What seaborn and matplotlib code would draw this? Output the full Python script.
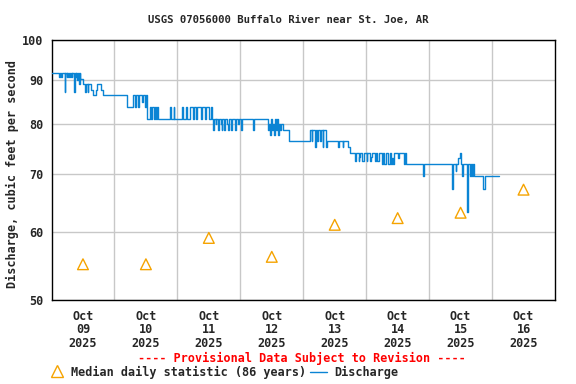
import matplotlib
matplotlib.use("Agg")
import matplotlib.pyplot as plt
from matplotlib.lines import Line2D
from matplotlib.ticker import NullLocator
import seaborn as sns
import pandas as pd

# ---------------------------------------------------------------------------
# Data (hours since Oct 09 2025 00:00, discharge in cubic feet per second)
# Step change points of the provisional record.
# ---------------------------------------------------------------------------
flow_hours = [
    0.0, 2.9, 3.3, 3.8, 4.1, 5.0, 5.3, 5.8, 6.0, 6.3, 6.6, 7.0, 7.3, 7.7, 7.9,
    8.5, 8.8, 9.2, 9.4, 9.8, 10.0, 10.4, 10.7, 11.0, 11.9, 12.8, 13.1, 13.9,
    14.1, 15.1, 15.7, 16.9, 17.4, 19.0, 19.5, 28.8, 31.2, 31.7, 32.1, 33.1,
    33.5, 34.4, 34.8, 35.8, 36.2, 36.6, 37.5, 37.9, 38.5, 38.9, 39.5, 39.9,
    40.4, 40.7, 45.2, 45.5, 46.6, 46.9, 49.9, 50.2, 51.3, 51.6, 52.7, 53.9,
    54.3, 55.1, 55.5, 57.0, 57.4, 58.6, 59.0, 60.2, 60.7, 61.2, 61.5, 61.8,
    62.6, 62.9, 63.6, 63.9, 64.5, 64.9, 65.2, 65.9, 66.2, 67.1, 67.4, 67.7,
    68.3, 68.6, 68.9, 69.9, 70.2, 71.2, 71.6, 72.4, 72.7, 77.0, 77.3, 82.6,
    82.9, 83.2, 83.6, 84.0, 84.4, 84.8, 85.1, 85.6, 86.0, 86.4, 86.8, 87.2,
    87.6, 88.1, 90.7, 98.7, 99.2, 99.5, 100.4, 100.9, 101.4, 101.8, 102.5,
    102.9, 103.4, 103.7, 104.5, 104.9, 109.4, 109.7, 111.0, 111.3, 113.1,
    113.7, 115.9, 116.3, 117.1, 117.4, 117.7, 118.5, 119.0, 120.2, 120.5,
    121.4, 121.8, 122.2, 123.2, 123.7, 124.3, 124.8, 125.9, 126.4, 126.9,
    127.5, 128.4, 128.9, 129.3, 129.8, 130.1, 130.7, 132.1, 132.4, 134.3,
    134.7, 135.2, 141.7, 142.2, 152.9, 153.2, 154.1, 154.4, 155.1, 155.7,
    156.1, 156.7, 157.1, 158.4, 158.7, 159.4, 159.8, 160.4, 160.6, 161.2,
    164.7, 165.2, 170.6,
]
flow_cfs = [
    91.6, 90.6, 91.6, 90.6, 91.6, 87.0, 91.6, 90.6, 91.6, 90.6, 91.6, 90.6,
    91.6, 90.6, 91.6, 87.0, 91.6, 90.6, 91.6, 89.9, 91.6, 88.9, 91.6, 90.2,
    88.9, 87.0, 88.9, 87.0, 88.9, 87.6, 86.4, 87.6, 88.9, 87.6, 86.4, 83.7,
    86.4, 83.7, 86.4, 83.7, 86.4, 84.8, 86.4, 83.7, 86.4, 81.0, 83.7, 81.0,
    83.7, 81.0, 83.7, 81.0, 83.7, 81.0, 83.7, 81.0, 83.7, 81.0, 83.7, 81.0,
    83.7, 81.0, 83.7, 81.0, 83.7, 81.0, 83.7, 81.0, 83.7, 81.0, 83.7, 81.0,
    83.7, 81.0, 78.6, 81.0, 80.0, 81.0, 78.6, 81.0, 80.0, 78.6, 81.0, 78.6,
    81.0, 80.0, 78.6, 81.0, 80.0, 78.6, 81.0, 78.6, 81.0, 80.0, 81.0, 78.6,
    81.0, 78.6, 81.0, 78.6, 80.0, 77.6, 81.0, 78.6, 80.0, 77.6, 81.0, 78.6,
    81.0, 77.6, 80.0, 78.6, 80.0, 78.6, 76.4, 78.6, 76.4, 78.6, 75.2, 78.6,
    76.4, 78.6, 76.4, 78.6, 75.2, 78.6, 75.2, 76.4, 75.2, 76.4, 75.2, 76.4,
    75.2, 74.0, 72.4, 74.0, 72.4, 73.2, 74.0, 72.4, 74.0, 72.4, 74.0, 72.4,
    73.2, 74.0, 72.4, 74.0, 72.4, 74.0, 71.8, 74.0, 71.8, 74.0, 71.8, 74.0,
    71.8, 73.0, 71.8, 74.0, 73.0, 74.0, 71.8, 74.0, 71.8, 69.6, 71.8, 67.3,
    71.8, 70.6, 71.8, 73.0, 74.0, 71.8, 69.6, 71.8, 63.3, 71.8, 69.6, 71.8,
    69.6, 71.8, 69.6, 67.3, 69.6, 69.6,
]

# Median daily statistic (86 years), plotted at noon of each day
median_hours = [12, 36, 60, 84, 108, 132, 156, 180]
median_cfs = [55.0, 55.0, 59.0, 56.1, 61.1, 62.2, 63.1, 67.1]

day_labels = ["Oct\n09\n2025", "Oct\n10\n2025", "Oct\n11\n2025", "Oct\n12\n2025",
              "Oct\n13\n2025", "Oct\n14\n2025", "Oct\n15\n2025", "Oct\n16\n2025"]
y_ticks = [50, 60, 70, 80, 90, 100]

BLUE = "#0a84d4"
ORANGE = "#f5a300"
GRID = "#c8c8c8"

# ---------------------------------------------------------------------------
sns.set_style("white")
plt.rcParams["font.family"] = ["DejaVu Sans Mono"]
plt.rcParams["font.weight"] = "bold"
FS = 8.5

flow = pd.DataFrame({"hours": flow_hours, "cfs": flow_cfs})
med = pd.DataFrame({"hours": median_hours, "cfs": median_cfs})

fig = plt.figure(figsize=(5.76, 3.84), dpi=100)
ax = fig.add_axes([51.5 / 576, 1 - 300 / 384, (555 - 51.5) / 576, 260 / 384])

sns.lineplot(data=flow, x="hours", y="cfs", ax=ax, color=BLUE, linewidth=1.0,
             drawstyle="steps-post", estimator=None, sort=False, zorder=3)
sns.scatterplot(data=med, x="hours", y="cfs", ax=ax, marker="^", s=60,
                facecolors="none", edgecolor=ORANGE, linewidth=1.0, zorder=4)

ax.set_yscale("log")
ax.set_ylim(50, 100)
ax.set_xlim(0, 192)
ax.yaxis.set_minor_locator(NullLocator())
ax.set_yticks(y_ticks)
ax.set_yticklabels([str(v) for v in y_ticks], fontsize=FS, fontweight="bold")
ax.set_xticks(median_hours)
ax.set_xticklabels(day_labels, fontsize=FS, fontweight="bold", linespacing=1.05)
ax.set_xticks(range(24, 192, 24), minor=True)
ax.tick_params(axis="both", which="both", length=0)
ax.tick_params(axis="x", pad=7)
ax.tick_params(axis="y", pad=6)
ax.grid(False)
ax.grid(True, axis="y", which="major", color=GRID, linewidth=1.0)
ax.grid(True, axis="x", which="minor", color=GRID, linewidth=1.0)
ax.set_xlabel("")
ax.set_ylabel("")
for sp in ax.spines.values():
    sp.set_visible(True)
    sp.set_color("black")
    sp.set_linewidth(1.0)

fig.text(288 / 576, 1 - 20 / 384, "USGS 07056000 Buffalo River near St. Joe, AR",
         ha="center", va="center", fontsize=7.7, fontweight="bold")
fig.text(12 / 576, 1 - 174 / 384, "Discharge, cubic feet per second",
         rotation=90, ha="center", va="center", fontsize=FS, fontweight="bold")
fig.text(302 / 576, 1 - 358 / 384, "---- Provisional Data Subject to Revision ----",
         ha="center", va="center", fontsize=FS, fontweight="bold", color="red")

# legend row
ly = 1 - 372 / 384
fig.add_artist(Line2D([57 / 576], [ly + 0.003], marker="^", markersize=8,
                      markerfacecolor="none", markeredgecolor=ORANGE,
                      markeredgewidth=1.0, linestyle="none",
                      transform=fig.transFigure))
fig.text(71 / 576, ly, "Median daily statistic (86 years)", ha="left",
         va="center", fontsize=FS, fontweight="bold")
fig.add_artist(Line2D([310 / 576, 327 / 576], [ly, ly], color=BLUE,
                      linewidth=1.0, transform=fig.transFigure))
fig.text(334 / 576, ly, "Discharge", ha="left", va="center", fontsize=FS,
         fontweight="bold")

fig.savefig("out.png", dpi=100)
